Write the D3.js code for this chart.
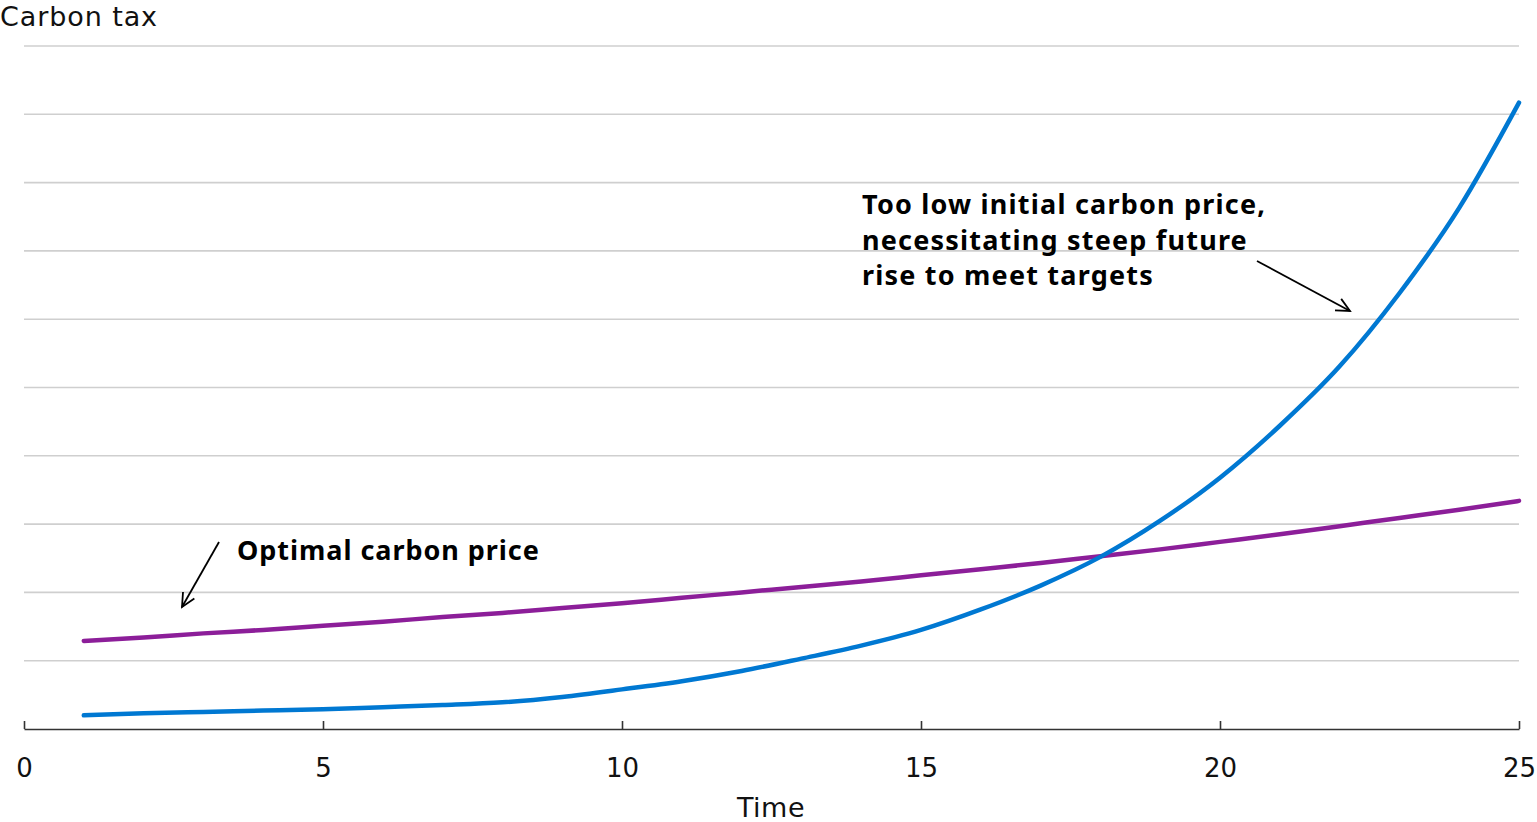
<!DOCTYPE html>
<html><head><meta charset="utf-8">
<script src="https://cdn.jsdelivr.net/npm/d3@7"></script>
<style>
html,body{margin:0;padding:0;background:#fff;}
svg{display:block;font-family:"DejaVu Sans",sans-serif;}
</style></head>
<body><svg id="chart" width="1537" height="822"></svg>
<script>
const time = [1,2,3,4,5,6,7,8,9,10,11,12,13,14,15,16,17,18,19,20,21,22,23,24,25];
const optimalPrice = [1.29,1.34,1.40,1.45,1.51,1.57,1.64,1.70,1.77,1.84,1.92,2.00,2.08,2.16,2.25,2.34,2.43,2.53,2.63,2.74,2.85,2.97,3.09,3.21,3.34];
const lowInitialPrice = [0.20,0.23,0.25,0.27,0.29,0.32,0.35,0.39,0.47,0.58,0.70,0.85,1.03,1.22,1.45,1.75,2.10,2.52,3.05,3.68,4.44,5.31,6.38,7.63,9.17];
const xTicks = [0,5,10,15,20,25];
const yGrid = [1,2,3,4,5,6,7,8,9,10];

const svg = d3.select("#chart");
const x = d3.scaleLinear().domain([0,25]).range([24,1519]);
const y = d3.scaleLinear().domain([0,10]).range([729,46]);

svg.append("g").selectAll("line").data(yGrid).join("line")
  .attr("x1", x(0)).attr("x2", x(25))
  .attr("y1", d=>y(d)).attr("y2", d=>y(d))
  .attr("stroke","#cfcfcf").attr("stroke-width",1.6);

const xAxis = d3.axisBottom(x).tickValues(xTicks).tickSize(0).tickPadding(30).tickFormat(d3.format("d"));
const gx = svg.append("g").attr("transform",`translate(0,${y(0)})`).call(xAxis);
gx.select(".domain").attr("stroke","#333").attr("stroke-width",1.6);
gx.selectAll(".tick text").attr("font-size",26).attr("fill","#111").attr("font-family","DejaVu Sans, sans-serif");
gx.selectAll(".tick").append("line").attr("y1",0).attr("y2",-8).attr("stroke","#333").attr("stroke-width",1.6);

svg.append("text").attr("x",0).attr("y",26).attr("font-size",27).attr("letter-spacing",0.9).attr("fill","#111").text("Carbon tax");
svg.append("text").attr("x",771).attr("y",817).attr("text-anchor","middle").attr("font-size",27).attr("letter-spacing",0.5).attr("fill","#111").text("Time");

const line = d3.line().x((d,i)=>x(time[i])).y(d=>y(d)).curve(d3.curveMonotoneX);
svg.append("path").datum(optimalPrice).attr("d",line).attr("fill","none")
  .attr("stroke","#8c1e99").attr("stroke-width",4.5).attr("stroke-linecap","round");
svg.append("path").datum(lowInitialPrice).attr("d",line).attr("fill","none")
  .attr("stroke","#0078d2").attr("stroke-width",4.5).attr("stroke-linecap","round");

const bold = {family:"Noto Sans, sans-serif", size:27};
svg.append("text").attr("x",237).attr("y",560).attr("font-family",bold.family).attr("font-size",bold.size).attr("font-weight","bold").attr("letter-spacing",0.95).attr("fill","#000").text("Optimal carbon price");
const lines2 = ["Too low initial carbon price,","necessitating steep future","rise to meet targets"];
svg.append("g").selectAll("text").data(lines2).join("text")
  .attr("x",862).attr("y",(d,i)=>214+i*35.5).attr("font-family",bold.family).attr("font-size",bold.size).attr("font-weight","bold").attr("letter-spacing",1.2).attr("fill","#000").text(d=>d);

function arrow(x1,y1,x2,y2){
  svg.append("line").attr("x1",x1).attr("y1",y1).attr("x2",x2).attr("y2",y2).attr("stroke","#000").attr("stroke-width",1.8);
  const a = Math.atan2(y2-y1,x2-x1), L=15, sp=0.45;
  const p1=[x2-L*Math.cos(a-sp), y2-L*Math.sin(a-sp)], p2=[x2-L*Math.cos(a+sp), y2-L*Math.sin(a+sp)];
  svg.append("path").attr("d",`M${p1}L${x2},${y2}L${p2}`).attr("fill","none").attr("stroke","#000").attr("stroke-width",1.8);
}
arrow(219,542,182,607);
arrow(1257,261,1350,311);
</script></body></html>
